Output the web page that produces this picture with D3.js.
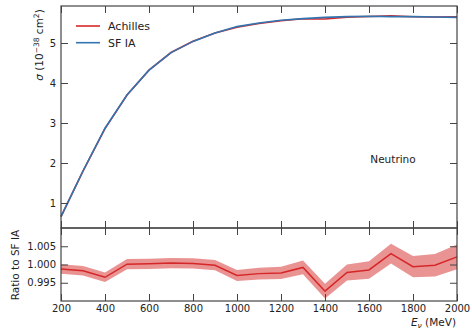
<!DOCTYPE html>
<html><head><meta charset="utf-8">
<script src="https://cdn.jsdelivr.net/npm/d3@7/dist/d3.min.js"></script>
<style>body{margin:0;background:#fff}svg{display:block}text{font-family:"DejaVu Sans",sans-serif;fill:#222}</style>
</head><body><svg id="c" width="472" height="331"></svg>
<script>
const energies = [200,300,400,500,600,700,800,900,1000,1100,1200,1300,1400,1500,1600,1700,1800,1900,2000];
const sfIA     = [0.66,1.80,2.87,3.70,4.32,4.76,5.04,5.25,5.41,5.50,5.57,5.61,5.64,5.66,5.67,5.66,5.66,5.65,5.64];
const achilles = [0.659,1.797,2.86,3.70,4.32,4.762,5.042,5.248,5.394,5.486,5.557,5.605,5.599,5.648,5.662,5.677,5.657,5.649,5.652];
const ratio    = [0.9988,0.9983,0.9965,1.0001,1.0002,1.0004,1.0003,0.9998,0.9970,0.9975,0.9977,0.9992,0.9927,0.9978,0.9985,1.0030,0.9994,0.9998,1.0021];
const ratioErr = [0.0013,0.0013,0.0013,0.0014,0.0014,0.0014,0.0014,0.0014,0.0015,0.0016,0.0017,0.0019,0.0020,0.0022,0.0024,0.0027,0.0029,0.0031,0.0034];
const xTicks = [200,400,600,800,1000,1200,1400,1600,1800,2000];
const yTicksTop = [1,2,3,4,5];
const yTicksBot = [0.995,1.000,1.005];

const svg = d3.select("#c");
const L=61, R=457, T1=6, B1=228, T2=228, B2=301;
const red="#d62728", blue="#3274b0", frame="#444";
const x = d3.scaleLinear().domain([200,2000]).range([L,R]);
const y1 = d3.scaleLinear().domain([0.375,5.925]).range([B1,T1]);
const y2 = d3.scaleLinear().domain([0.990,1.010]).range([B2,T2]);

// band
const band = d3.area().x((d,i)=>x(energies[i])).y0((d,i)=>y2(ratio[i]-ratioErr[i])).y1((d,i)=>y2(ratio[i]+ratioErr[i]));
svg.append("path").attr("d",band(energies)).attr("fill",red).attr("fill-opacity",0.5);
svg.append("path").attr("d",d3.line().x((d,i)=>x(energies[i])).y((d,i)=>y2(ratio[i]))(energies))
  .attr("fill","none").attr("stroke",red).attr("stroke-width",1.5);

// top lines
const ln = (arr)=>d3.line().x((d,i)=>x(energies[i])).y((d,i)=>y1(arr[i]))(energies);
svg.append("path").attr("d",ln(achilles)).attr("fill","none").attr("stroke",red).attr("stroke-width",1.6);
svg.append("path").attr("d",ln(sfIA)).attr("fill","none").attr("stroke",blue).attr("stroke-width",1.6);

// axes with inward ticks
const tl=7;
function axes(ys, top, bot, yt, fmt, showX){
  const gB = svg.append("g").attr("transform",`translate(0,${bot})`)
    .call(d3.axisBottom(x).tickValues(xTicks).tickSizeInner(-tl).tickSizeOuter(0).tickPadding(4).tickFormat(showX?d3.format("d"):()=>""));
  const gT = svg.append("g").attr("transform",`translate(0,${top})`)
    .call(d3.axisTop(x).tickValues(xTicks).tickSizeInner(-tl).tickSizeOuter(0).tickFormat(()=>""));
  const gL = svg.append("g").attr("transform",`translate(${L},0)`)
    .call(d3.axisLeft(ys).tickValues(yt).tickSizeInner(-tl).tickSizeOuter(0).tickPadding(5).tickFormat(fmt));
  const gR = svg.append("g").attr("transform",`translate(${R},0)`)
    .call(d3.axisRight(ys).tickValues(yt).tickSizeInner(-tl).tickSizeOuter(0).tickFormat(()=>""));
  [gB,gT,gL,gR].forEach(g=>{
    g.select(".domain").remove();
    g.selectAll(".tick line").attr("stroke",frame).attr("stroke-width",1);
    g.selectAll("text").attr("font-size","10px").attr("fill","#222").attr("font-family","DejaVu Sans");
  });
  svg.append("rect").attr("x",L).attr("y",top).attr("width",R-L).attr("height",bot-top)
    .attr("fill","none").attr("stroke",frame).attr("stroke-width",1.2);
}
axes(y1,T1,B1,yTicksTop,d3.format("d"),false);
axes(y2,T2,B2,yTicksBot,d3.format(".3f"),true);

// labels
const yl = svg.append("text").attr("transform","translate(43,45) rotate(-90)").attr("text-anchor","middle").attr("font-size","10.5px");
yl.append("tspan").attr("font-style","italic").text("σ");
yl.append("tspan").text(" (10");
yl.append("tspan").attr("font-size","7.5px").attr("dy","-4").text("−38");
yl.append("tspan").attr("dy","4").text(" cm");
yl.append("tspan").attr("font-size","7.5px").attr("dy","-4").text("2");
yl.append("tspan").attr("dy","4").text(")");
svg.append("text").attr("transform","translate(19,265) rotate(-90)").attr("text-anchor","middle").attr("font-size","10.5px").text("Ratio to SF IA");
const xl = svg.append("text").attr("x",456).attr("y",326).attr("text-anchor","end").attr("font-size","10.5px");
xl.append("tspan").attr("font-style","italic").text("E");
xl.append("tspan").attr("font-style","italic").attr("font-size","7.5px").attr("dy","2").text("ν");
xl.append("tspan").attr("dy","-2").text(" (MeV)");
svg.append("text").attr("x",393).attr("y",163).attr("text-anchor","middle").attr("font-size","10.5px").text("Neutrino");

// legend
const leg = [{n:"Achilles",c:red},{n:"SF IA",c:blue}];
leg.forEach((d,i)=>{
  const yy = 26 + i*16.7;
  svg.append("line").attr("x1",76).attr("x2",100).attr("y1",yy).attr("y2",yy).attr("stroke",d.c).attr("stroke-width",1.6);
  svg.append("text").attr("x",108).attr("y",yy+4).attr("font-size","11px").text(d.n);
});
</script></body></html>
